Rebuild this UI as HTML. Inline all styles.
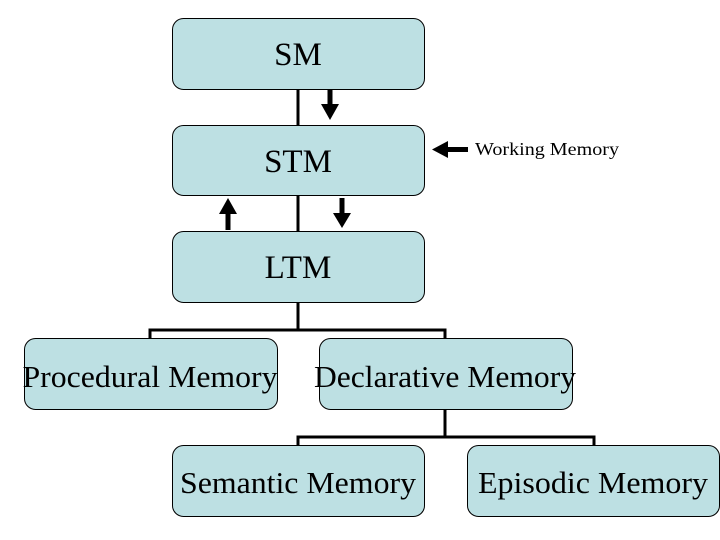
<!DOCTYPE html>
<html><head><style>body{margin:0;background:#fff}</style></head><body>
<svg width="720" height="540" xmlns="http://www.w3.org/2000/svg" style="display:block">
<g stroke="#000" stroke-width="3" fill="none">
<line x1="298" y1="89" x2="298" y2="125"/>
<line x1="298" y1="195" x2="298" y2="231"/>
<line x1="298" y1="302" x2="298" y2="330"/>
<polyline points="150,338 150,330 445,330 445,338"/>
<line x1="445" y1="409" x2="445" y2="437"/>
<polyline points="298,445 298,437 594,437 594,445"/>
</g>
<g fill="#bde0e3" stroke="#000" stroke-width="1">
<rect x="172.5" y="18.5" width="252" height="71" rx="11"/>
<rect x="172.5" y="125.5" width="252" height="70" rx="11"/>
<rect x="172.5" y="231.5" width="252" height="71" rx="11"/>
<rect x="24.5" y="338.5" width="253" height="71" rx="11"/>
<rect x="319.5" y="338.5" width="253" height="71" rx="11"/>
<rect x="172.5" y="445.5" width="252" height="71" rx="11"/>
<rect x="467.5" y="445.5" width="252" height="71" rx="11"/>
</g>
<g fill="#000">
<rect x="327.5" y="89" width="5" height="18"/><polygon points="321,104 339,104 330,120"/>
<rect x="339.5" y="198" width="5" height="18"/><polygon points="333,213 351,213 342,228"/>
<rect x="225.5" y="212" width="5" height="18"/><polygon points="219,214 237,214 228,198"/>
<rect x="446" y="147" width="22" height="5"/><polygon points="432,149.5 448,141 448,158"/>
</g>
<g font-family="Liberation Serif, serif" font-size="31" text-anchor="middle" fill="#000">
<text x="298" y="65" font-size="33">SM</text>
<text x="298" y="172" font-size="33">STM</text>
<text x="298" y="278" font-size="33">LTM</text>
<text x="150" y="387" textLength="255" lengthAdjust="spacingAndGlyphs">Procedural Memory</text>
<text x="445" y="387" textLength="262" lengthAdjust="spacingAndGlyphs">Declarative Memory</text>
<text x="298" y="493" textLength="236" lengthAdjust="spacingAndGlyphs">Semantic Memory</text>
<text x="593" y="493" textLength="230" lengthAdjust="spacingAndGlyphs">Episodic Memory</text>
<text x="547" y="155" font-size="18" textLength="144" lengthAdjust="spacingAndGlyphs">Working Memory</text>
</g>
</svg>
</body></html>
